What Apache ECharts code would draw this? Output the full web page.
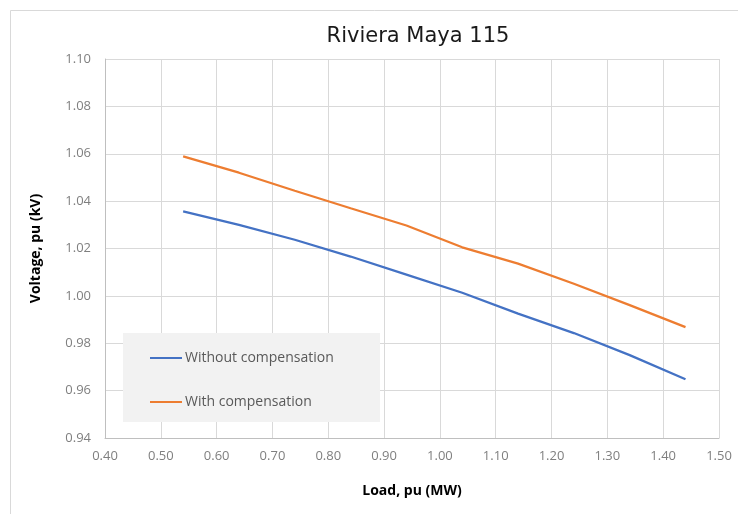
<!DOCTYPE html>
<html>
<head>
<meta charset="utf-8">
<script src="https://cdn.jsdelivr.net/npm/echarts@6/dist/echarts.min.js"></script>
<style>
  html, body { margin: 0; padding: 0; background: #fff; }
  #chart { width: 738px; height: 514px; }
</style>
</head>
<body>
<div id="chart"></div>
<script>
// Load points (pu) and bus voltage (pu) for the two cases
const loadPu = [0.54, 0.64, 0.74, 0.84, 0.94, 1.04, 1.14, 1.24, 1.34, 1.44];
const voltageWithout = [1.0357, 1.0300, 1.0237, 1.0166, 1.0090, 1.0013, 0.9925, 0.9843, 0.9750, 0.9648];
const voltageWith = [1.0589, 1.0520, 1.0444, 1.0370, 1.0297, 1.0205, 1.0136, 1.0051, 0.9961, 0.9868];

const seriesNames = ['Without compensation', 'With compensation'];
const seriesColors = ['#4472c4', '#ed7d31'];

const FONT = 'Open Sans';

function pairs(xs, ys) {
  return xs.map((x, i) => [x, ys[i]]);
}

const chart = echarts.init(document.getElementById('chart'), null, { renderer: 'canvas' });

chart.setOption({
  backgroundColor: '#ffffff',
  animation: false,
  textStyle: { fontFamily: FONT },
  title: {
    text: 'Riviera Maya 115',
    left: 413,
    textAlign: 'center',
    top: 21,
    textStyle: { fontFamily: 'DejaVu Sans', fontSize: 21, fontWeight: 'normal', color: '#1a1a1a' }
  },
  grid: { left: 105, right: 19, top: 59, bottom: 76, containLabel: false },
  xAxis: {
    type: 'value',
    min: 0.4,
    max: 1.5,
    interval: 0.1,
    name: 'Load, pu (MW)',
    nameLocation: 'middle',
    nameGap: 46,
    nameTextStyle: { fontFamily: FONT, fontSize: 14, fontWeight: 'bold', color: '#000' },
    axisLine: { show: true, lineStyle: { color: '#bfbfbf', width: 1 } },
    axisTick: { show: false },
    axisLabel: {
      color: '#7f7f7f', fontSize: 13, margin: 12,
      formatter: v => v.toFixed(2)
    },
    splitLine: { show: true, lineStyle: { color: '#d9d9d9', width: 1 } }
  },
  yAxis: {
    type: 'value',
    min: 0.94,
    max: 1.10,
    interval: 0.02,
    name: 'Voltage, pu (kV)',
    nameLocation: 'middle',
    nameRotate: 90,
    nameGap: 62,
    nameTextStyle: { fontFamily: FONT, fontSize: 14, fontWeight: 'bold', color: '#000' },
    axisLine: { show: true, lineStyle: { color: '#bfbfbf', width: 1 } },
    axisTick: { show: false },
    axisLabel: {
      color: '#7f7f7f', fontSize: 13, margin: 14,
      formatter: v => v.toFixed(2)
    },
    splitLine: { show: true, lineStyle: { color: '#d9d9d9', width: 1 } }
  },
  graphic: [
    {
      type: 'rect',
      left: 8, top: 8,
      shape: { width: 740, height: 520 },
      style: { fill: 'none', stroke: '#d9d9d9', lineWidth: 1 },
      silent: true, z: -10
    },
    {
      type: 'rect',
      left: 123, top: 333,
      shape: { width: 257, height: 89 },
      style: { fill: '#f2f2f2' },
      silent: true, z: 5
    }
  ],
  legend: {
    orient: 'vertical',
    left: 145,
    top: 346,
    itemGap: 30,
    itemWidth: 32,
    itemHeight: 2,
    icon: 'rect',
    z: 10,
    textStyle: { fontFamily: FONT, fontSize: 14, color: '#595959', padding: [0, 0, 0, -2] },
    data: seriesNames
  },
  series: [
    {
      name: seriesNames[0],
      type: 'line',
      data: pairs(loadPu, voltageWithout),
      showSymbol: false,
      symbol: 'none',
      lineStyle: { color: seriesColors[0], width: 2.25 },
      itemStyle: { color: seriesColors[0] }
    },
    {
      name: seriesNames[1],
      type: 'line',
      data: pairs(loadPu, voltageWith),
      showSymbol: false,
      symbol: 'none',
      lineStyle: { color: seriesColors[1], width: 2.25 },
      itemStyle: { color: seriesColors[1] }
    }
  ]
});
</script>
</body>
</html>
